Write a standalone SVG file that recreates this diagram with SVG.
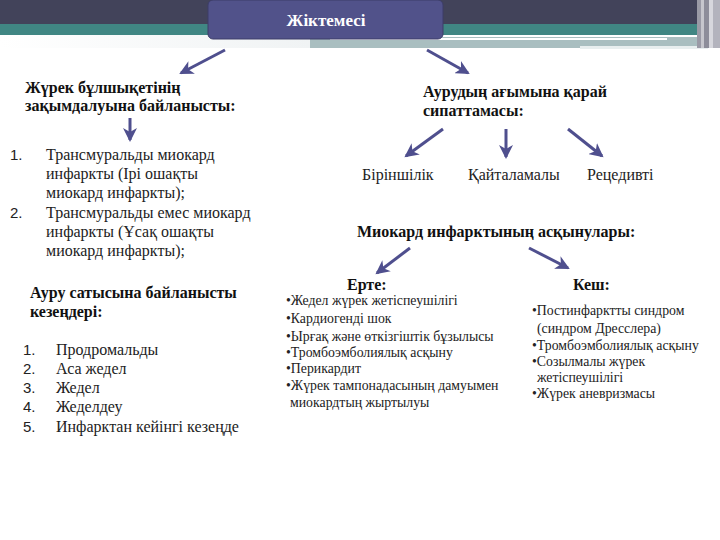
<svg xmlns="http://www.w3.org/2000/svg" width="720" height="540" viewBox="0 0 720 540">
<defs>
<marker id="ah" markerUnits="userSpaceOnUse" markerWidth="16" markerHeight="14" refX="12" refY="7" orient="auto">
<path d="M0,0 L14,7 L0,14 L4,7 Z" fill="#4f4f8e"/>
</marker>
<linearGradient id="fadeL" x1="0" y1="0" x2="1" y2="0">
<stop offset="0" stop-color="#ffffff"/>
<stop offset="1" stop-color="#f0f3f4"/>
</linearGradient>
</defs>
<style>
.h{font-family:"Liberation Serif","DejaVu Serif",serif;font-weight:bold;font-size:16px;fill:#111}
.t{font-family:"Liberation Serif","DejaVu Serif",serif;font-size:16px;fill:#222}
.s{font-family:"Liberation Serif","DejaVu Serif",serif;font-size:13.8px;fill:#222}
.n{font-family:"Liberation Sans",sans-serif;font-size:15px;fill:#222}
.c{stroke:#4f4f8e;stroke-width:3;fill:none;marker-end:url(#ah)}
</style>
<rect width="720" height="540" fill="#ffffff"/>
<g id="header">
<rect x="0" y="0" width="720" height="24" fill="#42435a"/>
<rect x="0" y="24" width="700" height="11" fill="#408683"/>
<rect x="0" y="35" width="310" height="13" fill="url(#fadeL)"/>
<rect x="310" y="37" width="390" height="11" fill="#a9bec0"/>
<rect x="330" y="38" width="337" height="2" fill="#ffffff"/>
<rect x="580" y="46" width="128" height="3" fill="#e8eeef"/>
<rect x="697" y="0" width="4" height="48" fill="#9a9aa6"/>
<rect x="701" y="0" width="3" height="48" fill="#c6c6cd"/>
<rect x="704" y="0" width="5" height="48" fill="#8d8d9a"/>
<rect x="709" y="0" width="4" height="48" fill="#d7d7dd"/>
<rect x="713" y="0" width="7" height="48" fill="#b3b3bd"/>
</g>
<g id="title">
<rect x="208" y="0" width="235" height="39" rx="5" fill="#51528a" stroke="#3c3d68" stroke-width="1"/>
<text x="326" y="26" text-anchor="middle" font-family="Liberation Serif,DejaVu Serif,serif" font-weight="bold" font-size="17" fill="#ffffff">Жіктемесі</text>
</g>
<g id="connectors">
<line class="c" x1="225" y1="50" x2="181" y2="73"/>
<line class="c" x1="427" y1="50" x2="468" y2="73"/>
<line class="c" x1="130" y1="118" x2="130" y2="140"/>
<line class="c" x1="443" y1="129" x2="406" y2="156"/>
<line class="c" x1="506" y1="129" x2="506" y2="157"/>
<line class="c" x1="568" y1="129" x2="602" y2="156"/>
<line class="c" x1="410" y1="248" x2="377" y2="273"/>
<line class="c" x1="529" y1="248" x2="568" y2="268"/>
</g>
<g id="damage">
<text class="h" x="25" y="93">Жүрек бұлшықетінің</text>
<text class="h" x="25" y="111">зақымдалуына байланысты:</text>
</g>
<g id="damage-list">
<text class="n" x="10" y="160">1.</text>
<text class="t" x="46" y="160">Трансмуральды миокард</text>
<text class="t" x="46" y="179">инфаркты (Ірі ошақты</text>
<text class="t" x="46" y="198">миокард инфаркты);</text>
<text class="n" x="10" y="218">2.</text>
<text class="t" x="46" y="218">Трансмуральды емес миокард</text>
<text class="t" x="46" y="237">инфаркты (Ұсақ ошақты</text>
<text class="t" x="46" y="256">миокард инфаркты);</text>
</g>
<g id="course">
<text class="h" x="423" y="97">Аурудың ағымына қарай</text>
<text class="h" x="423" y="116">сипаттамасы:</text>
</g>
<g id="primary"><text class="t" x="362" y="180">Біріншілік</text></g>
<g id="repeated"><text class="t" x="468" y="180">Қайталамалы</text></g>
<g id="recurrent"><text class="t" x="587" y="180">Рецедивті</text></g>
<g id="complications">
<text class="h" x="357" y="237">Миокард инфарктының асқынулары:</text>
</g>
<g id="stages">
<text class="h" x="30" y="298">Ауру сатысына байланысты</text>
<text class="h" x="30" y="317">кезеңдері:</text>
</g>
<g id="stages-list">
<text class="n" x="23" y="355">1.</text><text class="t" x="56" y="355">Продромальды</text>
<text class="n" x="23" y="374">2.</text><text class="t" x="56" y="374">Аса жедел</text>
<text class="n" x="23" y="393">3.</text><text class="t" x="56" y="393">Жедел</text>
<text class="n" x="23" y="412">4.</text><text class="t" x="56" y="412">Жеделдеу</text>
<text class="n" x="23" y="432">5.</text><text class="t" x="56" y="432">Инфарктан кейінгі кезеңде</text>
</g>
<g id="early">
<text class="h" x="347" y="290">Ерте:</text>
<text class="s" x="286" y="305">•Жедел жүрек жетіспеушілігі</text>
<text class="s" x="286" y="323">•Кардиогенді шок</text>
<text class="s" x="286" y="341">•Ырғақ  және өткізгіштік бұзылысы</text>
<text class="s" x="286" y="357">•Тромбоэмболиялық асқыну</text>
<text class="s" x="286" y="373">•Перикардит</text>
<text class="s" x="286" y="390">•Жүрек тампонадасының дамуымен</text>
<text class="s" x="290" y="407">миокардтың  жыртылуы</text>
</g>
<g id="late">
<text class="h" x="573" y="290">Кеш:</text>
<text class="s" x="532" y="315">•Постинфарктты синдром</text>
<text class="s" x="537" y="333">(синдром Дресслера)</text>
<text class="s" x="532" y="350">•Тромбоэмболиялық асқыну</text>
<text class="s" x="532" y="366">•Созылмалы  жүрек</text>
<text class="s" x="537" y="382">жетіспеушілігі</text>
<text class="s" x="532" y="398">•Жүрек аневризмасы</text>
</g>
</svg>
